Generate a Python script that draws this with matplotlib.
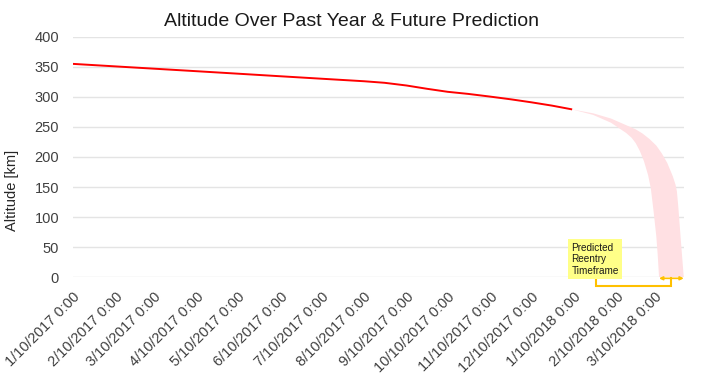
import matplotlib
matplotlib.use("Agg")
import matplotlib.pyplot as plt
import matplotlib.dates as mdates
import datetime as dt

plt.rcParams['font.family'] = ['Liberation Sans', 'DejaVu Sans']

# Observed altitude (km)
obs_dates = ["2017-01-10", "2017-02-10", "2017-03-10", "2017-04-10", "2017-05-10",
             "2017-06-10", "2017-07-10", "2017-08-10", "2017-08-25", "2017-09-10",
             "2017-09-25", "2017-10-10", "2017-10-25", "2017-11-10", "2017-11-25",
             "2017-12-10", "2017-12-25", "2018-01-08"]
obs_alt = [355, 350.8, 347, 342.8, 338.7, 334.4, 330.3, 326.1, 323.5, 319,
           313.5, 308.5, 305, 300.5, 296, 291, 285.5, 279.5]

# Prediction band edges (km)
upper_dates = ["2018-01-08", "2018-01-24", "2018-02-06", "2018-02-17", "2018-02-24",
               "2018-03-01", "2018-03-06", "2018-03-11", "2018-03-15", "2018-03-19",
               "2018-03-23", "2018-03-25", "2018-03-26", "2018-03-27", "2018-03-28",
               "2018-03-29", "2018-03-30", "2018-03-31"]
upper_alt = [279.5, 272.7, 264, 253, 246, 239, 230, 219, 206, 190,
             168, 154, 143, 118, 88, 58, 29, 0]
lower_dates = ["2018-01-08", "2018-01-24", "2018-02-06", "2018-02-17", "2018-02-21",
               "2018-02-24", "2018-02-27", "2018-03-02", "2018-03-05", "2018-03-07",
               "2018-03-09", "2018-03-11", "2018-03-12", "2018-03-13"]
lower_alt = [279.5, 270, 257, 240, 232, 223, 210, 193, 170, 148,
             110, 68, 38, 0]

tick_dates = ["2017-%02d-10" % m for m in range(1, 13)] + ["2018-01-10", "2018-02-10", "2018-03-10"]
tick_labels = ["%d/10/%d 0:00" % (int(d[5:7]), int(d[:4])) for d in tick_dates]
yticks = [0, 50, 100, 150, 200, 250, 300, 350, 400]

def D(s):
    return mdates.date2num(dt.datetime.strptime(s, "%Y-%m-%d"))

fig = plt.figure(figsize=(7.02, 3.76), dpi=100)
ax = fig.add_axes([0.104, 0.263, 0.870, 0.639])

poly_x = [D(s) for s in upper_dates] + [D(s) for s in lower_dates[::-1]]
poly_y = upper_alt + lower_alt[::-1]
ax.fill(poly_x, poly_y, color="#FFE0E3", lw=0, zorder=2)

ax.plot([D(s) for s in obs_dates], obs_alt, color="#FF0000", lw=1.4, zorder=3)

ax.set_xlim(D("2017-01-10"), D("2018-03-31"))
ax.set_ylim(0, 400)
ax.set_yticks(yticks)
ax.set_xticks([D(s) for s in tick_dates])
ax.set_xticklabels(tick_labels, rotation=45, ha="right", va="top",
                   rotation_mode="anchor", fontsize=10.5, color="#404040")
ax.tick_params(axis="x", length=0, pad=9)
ax.tick_params(axis="y", length=0, pad=10, labelsize=10.5, labelcolor="#404040")
ax.grid(axis="y", color="#E4E4E4", lw=1)
ax.set_axisbelow(True)
for sp in ax.spines.values():
    sp.set_visible(False)

ax.set_ylabel("Altitude [km]", fontsize=10.5, color="#262626")
ax.yaxis.set_label_coords(-0.088, 0.3625)
fig.suptitle("Altitude Over Past Year & Future Prediction", fontsize=14,
             color="#1a1a1a", y=0.965)

# Annotation box
ax.text(D("2018-01-08") + 0.3, 29.5, "Predicted\nReentry\nTimeframe", fontsize=7.2,
        ha="left", va="center", linespacing=1.2, color="#1a1a1a",
        bbox=dict(boxstyle="square,pad=0.35", fc="#FFFF88", ec="none"), zorder=5)

gold = "#FFC000"
xb = D("2018-01-26")
xe = D("2018-03-22")
ax.plot([xb, xb, xe, xe], [3, -14.5, -14.5, -2], color=gold, lw=1.5,
        clip_on=False, zorder=4, solid_joinstyle="miter")
ax.annotate("", xy=(D("2018-03-13"), -2), xytext=(D("2018-03-31"), -2),
            arrowprops=dict(arrowstyle="<|-|>", color=gold, lw=1.2,
                            mutation_scale=5, shrinkA=0, shrinkB=0),
            annotation_clip=False, zorder=4)

fig.savefig("out.png", dpi=100)
